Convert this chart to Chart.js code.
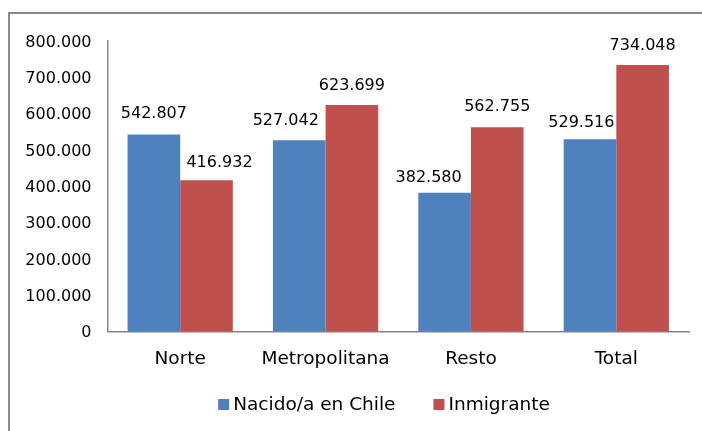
<!DOCTYPE html>
<html>
<head>
<meta charset="utf-8">
<script src="https://cdn.jsdelivr.net/npm/chart.js@4.4.1/dist/chart.umd.min.js"></script>
<style>
  html, body { margin: 0; padding: 0; background: #fff; overflow: hidden; width: 702px; height: 431px; }
  #frame { position: absolute; left: 8px; top: 12px; width: 752px; height: 440px; border: 2px solid #8a8a8a; box-sizing: content-box; }
  #frame canvas { display: block; }
</style>
</head>
<body>
<div id="frame"><canvas id="c" width="752" height="440"></canvas></div>
<script>
const categories = ["Norte", "Metropolitana", "Resto", "Total"];
const seriesNames = ["Nacido/a en Chile", "Inmigrante"];
const nacidoValues = [542807, 527042, 382580, 529516];
const inmigranteValues = [416932, 623699, 562755, 734048];
const yTicks = [0, 100000, 200000, 300000, 400000, 500000, 600000, 700000, 800000];

const fmt = v => String(v).replace(/\B(?=(\d{3})+(?!\d))/g, ".");
const FONT = "'DejaVu Sans', Verdana, sans-serif";

const valueLabels = {
  id: 'valueLabels',
  afterDatasetsDraw(chart, args, opts) {
    const ctx = chart.ctx;
    ctx.save();
    ctx.font = "16px " + FONT;
    ctx.fillStyle = "#000";
    ctx.textAlign = "center";
    ctx.textBaseline = "middle";
    chart.data.datasets.forEach((ds, di) => {
      chart.getDatasetMeta(di).data.forEach((bar, i) => {
        const off = opts.offsets[di][i];
        ctx.fillText(fmt(ds.data[i]), bar.x + off[0], bar.y + off[1]);
      });
    });
    ctx.restore();
  }
};

const customLegend = {
  id: 'customLegend',
  afterDraw(chart, args, opts) {
    const ctx = chart.ctx;
    ctx.save();
    ctx.font = opts.fontSize + "px " + FONT;
    ctx.textBaseline = "middle";
    ctx.textAlign = "left";
    const items = chart.data.datasets.map(ds => ({ text: ds.label, color: ds.backgroundColor, w: ctx.measureText(ds.label).width }));
    const total = items.reduce((s, it) => s + opts.box + opts.gap + it.w, 0) + opts.spacing * (items.length - 1);
    let x = opts.centerX - total / 2;
    items.forEach(it => {
      ctx.fillStyle = it.color;
      ctx.fillRect(x, opts.centerY - opts.box / 2, opts.box, opts.box);
      x += opts.box + opts.gap;
      ctx.fillStyle = "#000";
      ctx.fillText(it.text, x, opts.centerY + 1);
      x += it.w + opts.spacing;
    });
    ctx.restore();
  }
};

new Chart(document.getElementById('c'), {
  type: 'bar',
  data: {
    labels: categories,
    datasets: [
      { label: seriesNames[0], data: nacidoValues, backgroundColor: "#4F81BD", borderWidth: 0 },
      { label: seriesNames[1], data: inmigranteValues, backgroundColor: "#C0504D", borderWidth: 0 }
    ]
  },
  options: {
    responsive: false,
    animation: false,
    events: [],
    layout: { padding: { left: 0, right: 73, top: 27, bottom: 0 } },
    datasets: { bar: { categoryPercentage: 0.724, barPercentage: 1.0 } },
    plugins: {
      legend: { display: false },
      tooltip: { enabled: false },
      valueLabels: {
        offsets: [
          [[0, -21], [-13.5, -19.5], [-16, -15], [-8.6, -16.5]],
          [[13, -17.5], [0, -19.5], [0, -20.7], [0, -19.5]]
        ]
      },
      customLegend: { fontSize: 18.5, box: 11, gap: 4, spacing: 38, centerX: 374, centerY: 390.5 }
    },
    scales: {
      x: {
        grid: { display: false, drawTicks: false },
        border: { display: true, color: "#868686", width: 1.5 },
        ticks: { font: { family: FONT, size: 18.5 }, color: "#000", padding: 16 },
        afterFit: s => { s.height = 122.3; }
      },
      y: {
        min: 0, max: 800000,
        afterBuildTicks: s => { s.ticks = yTicks.map(v => ({ value: v })); },
        grid: { display: false, drawTicks: false },
        border: { display: true, color: "#868686", width: 1.5 },
        ticks: { font: { family: FONT, size: 16 }, color: "#000", padding: 16, labelOffset: 1.5, callback: v => fmt(v) },
        afterFit: s => { s.width = 97.5; }
      }
    }
  },
  plugins: [valueLabels, customLegend]
});
</script>
</body>
</html>
